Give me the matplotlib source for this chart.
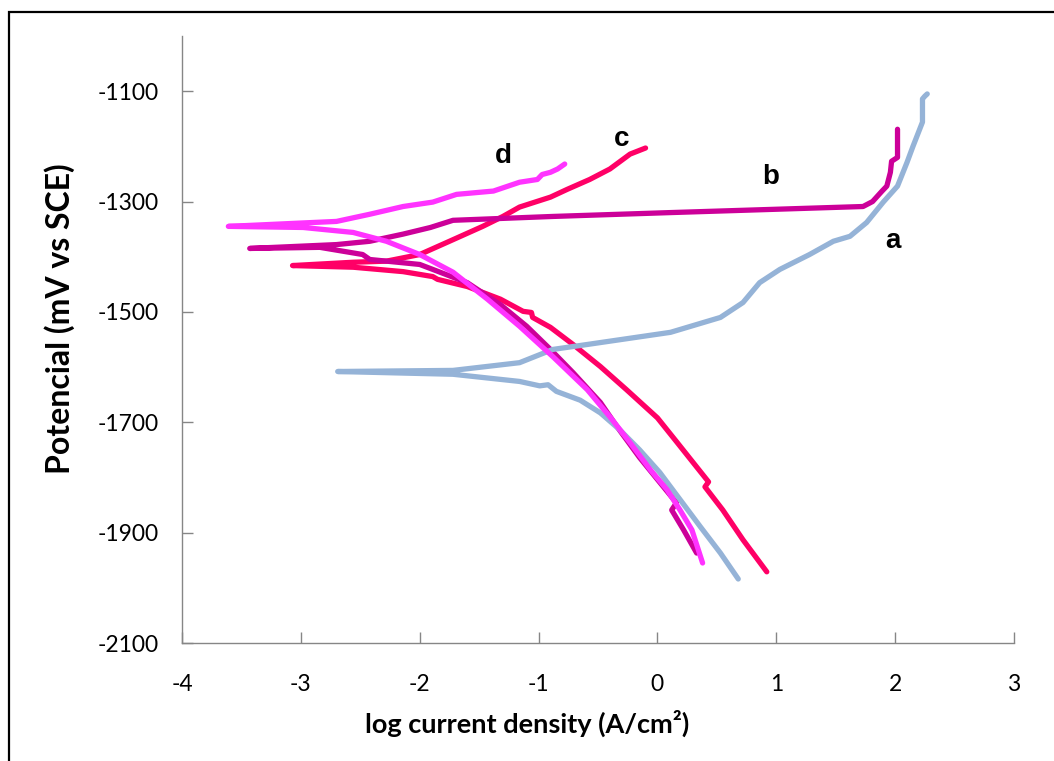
import matplotlib
matplotlib.use("Agg")
import matplotlib.pyplot as plt
from matplotlib.patches import Rectangle

# Curve a (blue): anodic top -> Ecorr -> cathodic bottom
a_x = [2.27, 2.25, 2.23, 2.23, 2.15, 2.10, 2.02, 1.90, 1.76, 1.62, 1.48, 1.28, 1.03, 0.86, 0.72,
       0.53, 0.11, -0.59, -0.88, -1.16, -1.72, -2.69,
       -1.72, -1.16, -0.99, -0.92, -0.85, -0.65, -0.48, -0.32, -0.15, 0.02, 0.19, 0.36, 0.53, 0.68]
a_y = [-1105, -1109, -1114, -1156, -1200, -1229, -1272, -1301, -1338, -1363, -1372, -1396, -1423, -1447, -1483,
       -1510, -1537, -1559, -1568, -1592, -1606, -1608,
       -1613, -1626, -1634, -1632, -1644, -1660, -1683, -1713, -1750, -1791, -1840, -1889, -1937, -1984]

# Curve b (dark magenta)
b_x = [2.02, 2.02, 2.02, 1.97, 1.96, 1.93, 1.89, 1.81, 1.73, 0.11, -0.88, -1.72, -1.91, -2.14, -2.42,
       -2.70, -3.43,
       -2.84, -2.48, -2.42, -2.00, -1.89, -1.60, -1.32, -1.10, -0.90, -0.71, -0.48, -0.34, -0.15,
       0.16, 0.12, 0.22, 0.33]
b_y = [-1169, -1200, -1220, -1227, -1247, -1272, -1281, -1300, -1309, -1320, -1327, -1334, -1347, -1359, -1372,
       -1378, -1385,
       -1383, -1396, -1405, -1414, -1423, -1447, -1487, -1526, -1568, -1610, -1664, -1708, -1764,
       -1846, -1859, -1895, -1937]

# Curve c (red-pink)
c_x = [-0.10, -0.23, -0.40, -0.57, -0.76, -0.90, -1.16, -1.30, -1.47, -1.75, -2.00, -2.28, -2.56, -3.07,
       -2.56, -2.14, -1.89, -1.85, -1.60, -1.32, -1.13, -1.06, -1.05, -0.90, -0.71, -0.48, -0.26, 0.00,
       0.16, 0.33, 0.43, 0.40, 0.55, 0.72, 0.92]
c_y = [-1203, -1214, -1241, -1260, -1278, -1292, -1310, -1327, -1345, -1372, -1396, -1408, -1410, -1416,
       -1419, -1427, -1436, -1441, -1454, -1477, -1499, -1501, -1510, -1528, -1559, -1599, -1641, -1692,
       -1735, -1781, -1808, -1817, -1859, -1913, -1971]

# Curve d (bright magenta)
d_x = [-0.78, -0.84, -0.90, -0.97, -1.01, -1.16, -1.38, -1.69, -1.89, -2.14, -2.42, -2.70, -3.61,
       -2.98, -2.56, -2.28, -2.00, -1.72, -1.43, -1.16, -0.88, -0.59, -0.40, -0.23, -0.06, 0.08, 0.19,
       0.29, 0.38]
d_y = [-1232, -1241, -1247, -1251, -1260, -1265, -1281, -1287, -1301, -1309, -1323, -1336, -1345,
       -1347, -1356, -1372, -1396, -1428, -1477, -1526, -1581, -1641, -1690, -1737, -1786, -1822, -1859,
       -1895, -1955]

labels = ["a", "b", "c", "d"]
label_x = [1.98, 0.95, -0.30, -1.30]
label_y = [-1372, -1256, -1187, -1218]

x_ticks = [-4, -3, -2, -1, 0, 1, 2, 3]
y_ticks = [-2100, -1900, -1700, -1500, -1300, -1100]

W, H = 1054, 761
fig = plt.figure(figsize=(W / 100, H / 100), dpi=100)
ax = fig.add_axes([182 / W, 1 - 643 / H, (1014 - 182) / W, (643 - 36) / H])

lw = 3.8
ax.plot(c_x, c_y, color="#FF0066", lw=lw, solid_capstyle="round", solid_joinstyle="round")
ax.plot(b_x, b_y, color="#CC0099", lw=lw, solid_capstyle="round", solid_joinstyle="round")
ax.plot(a_x, a_y, color="#95B3D7", lw=lw, solid_capstyle="round", solid_joinstyle="round")
ax.plot(d_x, d_y, color="#FF33FF", lw=lw, solid_capstyle="round", solid_joinstyle="round")

for t, x, y in zip(labels, label_x, label_y):
    ax.text(x, y, t, fontsize=20, fontweight="bold", family="Liberation Sans",
            ha="center", va="center", color="black")

ax.set_xlim(-4, 3)
ax.set_ylim(-2100, -1000)
ax.set_xticks(x_ticks)
ax.set_yticks(y_ticks)
ax.set_xticklabels([str(v) for v in x_ticks])
ax.set_yticklabels([str(v) for v in y_ticks])

for s in ["top", "right"]:
    ax.spines[s].set_visible(False)
for s in ["left", "bottom"]:
    ax.spines[s].set_color("#868686")
    ax.spines[s].set_linewidth(1.0)

ax.tick_params(axis="both", direction="in", length=8, width=1.0, color="#868686",
               labelsize=16.5)
ax.tick_params(axis="x", pad=22)
ax.tick_params(axis="y", pad=17)
for lab in ax.get_xticklabels() + ax.get_yticklabels():
    lab.set_family("Lato")

fig.text(527 / W, 1 - 723 / H, "log current density (A/cm²)", fontsize=19.5,
         fontweight="bold", family="Lato", ha="center", va="center")
fig.text(60 / W, 1 - 319 / H, "Potencial (mV vs SCE)", fontsize=23,
         fontweight="bold", family="Lato", ha="center", va="center", rotation=90)

fig.patches.append(Rectangle((9 / W, -0.2), 1.3, 1.2 - 12 / H, transform=fig.transFigure,
                             fill=False, ec="black", lw=1.6, clip_on=False))

fig.savefig("out.png", dpi=100)
